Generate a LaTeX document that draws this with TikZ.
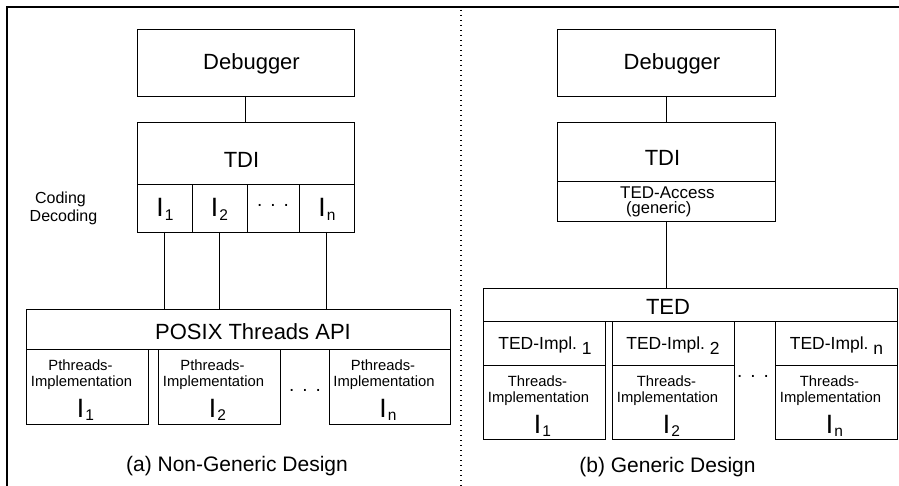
\documentclass[tikz,border=0pt]{standalone}
\usepackage{fontspec}
\setmainfont{Liberation Sans}
\newcommand\fbig{\fontsize{22}{25}\selectfont}
\newcommand\fcap{\fontsize{21}{25}\selectfont}
\newcommand\fmid{\fontsize{17}{20}\selectfont}
\newcommand\fsml{\fontsize{14.8}{17}\selectfont}
\newcommand\fcod{\fontsize{16}{18}\selectfont}
% letter I with a lowered index
\newcommand\isub[1]{{\fontsize{26.5}{26}\selectfont I}\hspace{1.2pt}\raisebox{-3.5pt}{\fontsize{15.5}{15}\selectfont #1}}
\newcommand\threedots{.\hspace{8pt}.\hspace{8pt}.}
% three text lines of an implementation box: #1 name, #2 centre x, #3 top y, #4 first word, #5 index
\newcommand\implabel[5]{%
  \node[lbl,font=\fsml] (#1a) at (#2-6.5,#3+21) {#4};
  \node[lbl,font=\fsml] (#1b) at (#2-5.5,#3+37) {Implementation};
  \node[lbl] (#1c) at (#2-1.5,#3+68) {\isub{#5}};}
\begin{document}
\begin{tikzpicture}[x=1pt,y=-1pt,
  box/.style={draw, line width=0.9pt, inner sep=0pt, outer sep=0pt, anchor=north west},
  lbl/.style={inner sep=0pt, anchor=base},
  conn/.style={line width=0.9pt},
  frame/.style={line width=1.6pt},
  sep/.style={line width=1.1pt, dash pattern=on 1.1pt off 3.9pt}]
\useasboundingbox (0,0) rectangle (899,486);

% outer frame and separator
\draw[frame] (7,486) -- (7,7) -- (899,7);
\draw[sep] (461,10) -- (461,486);

% ---------- (a) non-generic design ----------
\node[box, minimum width=217pt, minimum height=67pt] (debA) at (137,29) {};
\node[lbl,font=\fbig] (debAt) at (251.5,70) {Debugger};
\node[box, minimum width=217pt, minimum height=62pt] (tdiA) at (137,122) {};
\node[lbl,font=\fbig] (tdiAt) at (241.5,168) {TDI};
\node[box, minimum width=55pt, minimum height=48pt] (cA1) at (137,184) {};
\node[box, minimum width=55pt, minimum height=48pt] (cA2) at (192,184) {};
\node[box, minimum width=52pt, minimum height=48pt] (cA3) at (247,184) {};
\node[box, minimum width=55pt, minimum height=48pt] (cA4) at (299,184) {};
\node[lbl] (cA1t) at (165,217) {\isub{1}};
\node[lbl] (cA2t) at (219.5,217) {\isub{2}};
\node[lbl,font=\fontsize{19}{19}\selectfont] (cA3t) at (273,207) {\threedots};
\node[lbl] (cA4t) at (327,217) {\isub{n}};
\node[lbl,font=\fcod] (codA) at (60.5,204) {Coding};
\node[lbl,font=\fcod] (decA) at (63.5,222) {Decoding};

\node[box, minimum width=424pt, minimum height=40pt] (posix) at (26,309) {};
\node[lbl,font=\fbig] (posixt) at (253,339) {POSIX Threads API};
\node[box, minimum width=122pt, minimum height=75pt] (pA1) at (26,349) {};
\node[box, minimum width=122pt, minimum height=75pt] (pA2) at (158,349) {};
\node[box, minimum width=121pt, minimum height=75pt] (pA3) at (329,349) {};
\implabel{pA1t}{87}{349}{Pthreads-}{1}
\implabel{pA2t}{219}{349}{Pthreads-}{2}
\implabel{pA3t}{389.5}{349}{Pthreads-}{n}
\node[lbl,font=\fontsize{19}{19}\selectfont] (dotsA) at (305,391) {\threedots};
\node[lbl,font=\fcap] (capA) at (237,471) {(a) Non-Generic Design};

\draw[conn] (debA.south) -- (tdiA.north);
\draw[conn] (cA1.south) -- (cA1.south |- posix.north);
\draw[conn] (cA2.south) -- (cA2.south |- posix.north);
\draw[conn] (cA4.south) -- (cA4.south |- posix.north);

% ---------- (b) generic design ----------
\node[box, minimum width=218pt, minimum height=67pt] (debB) at (557,29) {};
\node[lbl,font=\fbig] (debBt) at (672,70) {Debugger};
\node[box, minimum width=218pt, minimum height=59pt] (tdiB) at (557,122) {};
\node[lbl,font=\fbig] (tdiBt) at (662.5,166) {TDI};
\node[box, minimum width=218pt, minimum height=40pt] (acc) at (557,181) {};
\node[lbl,font=\fmid,anchor=base west] (acct1) at (620,199) {TED-Access};
\node[lbl,font=\fontsize{16.5}{18}\selectfont,anchor=base west] (acct2) at (626,214) {(generic)};

\node[box, minimum width=414pt, minimum height=33pt] (ted) at (483,288) {};
\node[lbl,font=\fbig] (tedt) at (668,314) {TED};
\node[box, minimum width=122pt, minimum height=44pt] (tB1) at (483,321) {};
\node[box, minimum width=122pt, minimum height=44pt] (tB2) at (612,321) {};
\node[box, minimum width=122pt, minimum height=44pt] (tB3) at (775,321) {};
\node[box, minimum width=122pt, minimum height=74pt] (iB1) at (483,365) {};
\node[box, minimum width=122pt, minimum height=74pt] (iB2) at (612,365) {};
\node[box, minimum width=122pt, minimum height=74pt] (iB3) at (775,365) {};
\node[lbl,font=\fontsize{17.5}{20}\selectfont] (tB1t) at (545,349) {TED-Impl.\ \raisebox{-5pt}{1}};
\node[lbl,font=\fontsize{17.5}{20}\selectfont] (tB2t) at (673,349) {TED-Impl.\ \raisebox{-5pt}{2}};
\node[lbl,font=\fontsize{17.5}{20}\selectfont] (tB3t) at (836.5,349) {TED-Impl.\ \raisebox{-5pt}{n}};
\implabel{iB1t}{544}{365}{Threads-}{1}
\implabel{iB2t}{673}{365}{Threads-}{2}
\implabel{iB3t}{836}{365}{Threads-}{n}
\node[lbl,font=\fontsize{19}{19}\selectfont] (dotsB) at (753,377.5) {\threedots};
\node[lbl,font=\fcap] (capB) at (667.5,472) {(b) Generic Design};

\draw[conn] (debB.south) -- (tdiB.north);
\draw[conn] (acc.south) -- (acc.south |- ted.north);
\end{tikzpicture}
\end{document}
